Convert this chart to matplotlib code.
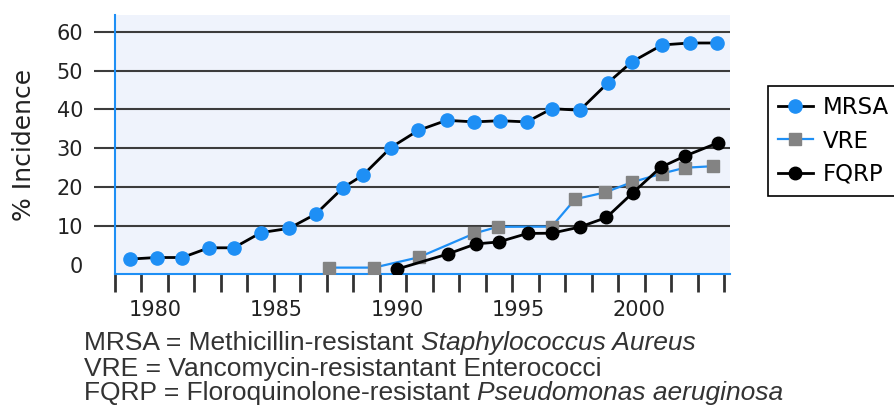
import numpy as np
import matplotlib
matplotlib.use("Agg")
import matplotlib.pyplot as plt

# values (x in years, y in % incidence)
mrsa_years = [1978.97, 1980.07, 1981.13, 1982.23, 1983.26, 1984.38, 1985.54, 1986.65,
              1987.78, 1988.60, 1989.75, 1990.88, 1992.05, 1993.20, 1994.26, 1995.37,
              1996.40, 1997.56, 1998.73, 1999.70, 2000.96, 2002.10, 2003.23]
mrsa_vals = [1.5, 1.9, 1.9, 4.4, 4.4, 8.3, 9.4, 13.1, 19.9, 23.1, 30.2, 34.6,
             37.2, 36.8, 37.1, 36.8, 40.2, 39.8, 46.9, 52.2, 56.6, 57.1, 57.1]

vre_years = [1987.20, 1989.05, 1990.90, 1993.20, 1994.17, 1996.40, 1997.36,
             1998.60, 1999.70, 2000.95, 2001.90, 2003.06]
vre_vals = [-0.7, -0.7, 1.95, 8.1, 9.8, 9.85, 16.9, 18.65, 21.25, 23.5, 25.0, 25.4]

fqrp_years = [1990.00, 1992.10, 1993.26, 1994.20, 1995.40, 1996.40, 1997.56,
              1998.66, 1999.74, 2000.90, 2001.90, 2003.26]
fqrp_vals = [-1.1, 2.8, 5.4, 5.9, 8.1, 8.15, 9.75, 12.2, 18.5, 25.1, 28.0, 31.4]

year_labels = [1980, 1985, 1990, 1995, 2000]
y_ticks = [0, 10, 20, 30, 40, 50, 60]

notes = [
    ("MRSA = Methicillin-resistant ", "Staphylococcus Aureus"),
    ("VRE = Vancomycin-resistantant Enterococci", ""),
    ("FQRP = Floroquinolone-resistant ", "Pseudomonas aeruginosa"),
]

blue = "#1e8ff5"
grid_col = "#3c3c3c"

fig = plt.figure(figsize=(8.95, 4.07), dpi=100)
ax = fig.add_axes([0.1285, 0.3268, 0.687, 0.6363])
ax.set_facecolor("#eff3fc")

ax.plot(mrsa_years, mrsa_vals, color="black", lw=2, marker="o", ms=9.5,
        mfc=blue, mec=blue, label="MRSA", zorder=3)
ax.plot(vre_years, vre_vals, color=blue, lw=1.6, marker="s", ms=9,
        mfc="#838383", mec="#838383", label="VRE", zorder=4)
ax.plot(fqrp_years, fqrp_vals, color="black", lw=2, marker="o", ms=9,
        mfc="black", mec="black", label="FQRP", zorder=5)

ax.set_xlim(1978.35, 2003.76)
ax.set_ylim(-2.34, 64.3)

# y axis: gridlines that run out to the left as ticks
ax.set_yticks(y_ticks)
ax.set_yticklabels([str(v) for v in y_ticks], fontsize=15, color="#222222")
ax.tick_params(axis="y", length=15, width=1.5, color=grid_col, pad=8)
ax.yaxis.grid(True, color=grid_col, lw=1.5)
ax.yaxis.get_major_ticks()[0].tick1line.set_visible(False)
ax.yaxis.get_major_ticks()[0].gridline.set_visible(False)
ax.set_axisbelow(True)

# x axis: tick marks every ~1.09 years, labels placed separately
ax.set_xticks(1978.35 + np.arange(24) * 1.0942)
ax.set_xticklabels([])
ax.tick_params(axis="x", which="major", length=13, width=2, color="#333333")
ax.set_xticks(year_labels, minor=True)
ax.set_xticklabels([str(y) for y in year_labels], minor=True, fontsize=15, color="#222222")
ax.tick_params(axis="x", which="minor", length=0, pad=19)

for s in ["top", "right"]:
    ax.spines[s].set_visible(False)
for s in ["left", "bottom"]:
    ax.spines[s].set_color(blue)
    ax.spines[s].set_linewidth(1.5)

ax.set_ylabel("% Incidence", fontsize=18, color="#222222", labelpad=15)

leg = fig.legend(loc="upper left", bbox_to_anchor=(0.858, 0.789), fontsize=16.5,
                 frameon=True, fancybox=False, edgecolor="black", framealpha=1,
                 handlelength=1.5, handletextpad=0.45, borderpad=0.45,
                 labelspacing=0.45, borderaxespad=0)
leg.get_frame().set_linewidth(1.2)

# footnotes (species names in italics)
line_y = [0.157, 0.094, 0.035]
for (plain, ital), y in zip(notes, line_y):
    t = fig.text(0.094, y, plain, fontsize=19, family="Liberation Sans",
                 color="#333333", va="center")
    if ital:
        fig.canvas.draw()
        bb = t.get_window_extent()
        x_end = bb.x1 / fig.bbox.width
        fig.text(x_end, y, ital, fontsize=19, family="Liberation Sans",
                 style="italic", color="#333333", va="center")

fig.savefig("out.png", dpi=100)
